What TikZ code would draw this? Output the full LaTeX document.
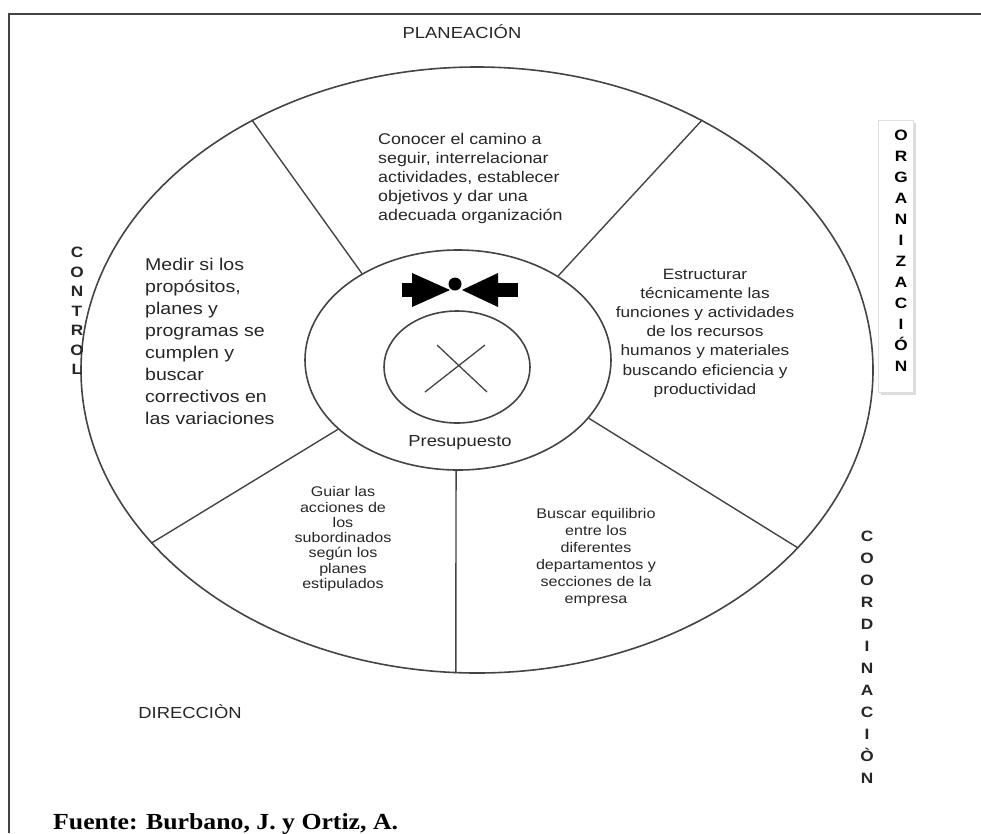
\documentclass[tikz,border=0pt]{standalone}
\usepackage{fontspec}
\setmainfont{Liberation Sans}[FakeStretch=1.15]
\newfontfamily\fuentefont{Liberation Serif}[FakeStretch=1.12]
\usetikzlibrary{shapes.geometric,shadows}
\definecolor{linegray}{HTML}{444444}
\definecolor{textgray}{HTML}{262626}
\tikzset{
  ring/.style={draw=linegray, line width=1.6pt, ellipse, inner sep=0pt},
  divider/.style={draw=linegray, line width=1.4pt},
  sector/.style={text=textgray, inner sep=0pt},
  vletters/.style={text=textgray, inner sep=0pt, align=center, font=\fontsize{15}{19.5}\selectfont\bfseries},
}

\begin{document}
\begin{tikzpicture}[x=1pt,y=-1pt]
\clip (0,0) rectangle (981,833);
\draw[linegray, line width=1.2pt] (981,14) -- (9,14) -- (9,833);

\node[ring, minimum width=792pt, minimum height=606pt] (outer) at (477,370) {};
\node[ring, minimum width=306pt, minimum height=220pt] (middle) at (458,360) {};
\node[ring, minimum width=146pt, minimum height=112pt] (inner) at (457,367) {};

\draw[divider] (middle.138.3) -- (outer.132.5);
\draw[divider] (middle.40.2) -- (outer.48);
\draw[divider] (middle.210.7) -- (outer.208.6);
\draw[divider] (middle.336.3) -- (outer.331.2);
\draw[divider] (middle.269) -- (outer.266.8);

\draw[linegray, line width=1.3pt] (437,345) -- (487,392) (425,392) -- (485,345);
\fill (402,283) rectangle (414,297);
\fill (412,273) -- (450,290) -- (412,307) -- cycle;
\fill (455,284) circle[radius=6.5];
\fill (462,290) -- (498,273) -- (498,307) -- cycle;
\fill (497,283) rectangle (518,297);

\node[sector, font=\fontsize{16}{19}\selectfont] (planeacion) at (462,32) {PLANEACIÓN};
\node[sector, font=\fontsize{16}{19}\selectfont] (direccion) at (190,712) {DIRECCIÒN};
\node[sector, font=\fontsize{16}{19}\selectfont] (presupuesto) at (460,443) {Presupuesto};

\node[sector, anchor=west, align=left, font=\fontsize{15.5}{19}\selectfont] (plan) at (378,178)
  {Conocer el camino a\\seguir, interrelacionar\\actividades, establecer\\objetivos y dar una\\adecuada organización};
\node[sector, anchor=west, align=left, font=\fontsize{17}{22}\selectfont] (ctrl) at (145,341)
  {Medir si los\\propósitos,\\planes y\\programas se\\cumplen y\\buscar\\correctivos en\\las variaciones};
\node[sector, align=center, font=\fontsize{15}{19.2}\selectfont] (org) at (705,333)
  {Estructurar\\técnicamente las\\funciones y actividades\\de los recursos\\humanos y materiales\\buscando eficiencia y\\productividad};
\node[sector, align=center, font=\fontsize{14}{15.3}\selectfont] (dir) at (343,539)
  {Guiar las\\acciones de\\los\\subordinados\\según los\\planes\\estipulados};
\node[sector, align=center, font=\fontsize{14}{17}\selectfont] (coord) at (596,557)
  {Buscar equilibrio\\entre los\\diferentes\\departamentos y\\secciones de la\\empresa};

\node[vletters] (control) at (77,311) {C\\O\\N\\T\\R\\O\\L};
\node[draw=gray!25, fill=white, drop shadow={shadow xshift=3pt, shadow yshift=-3pt, fill=gray!55},
  minimum width=35pt, minimum height=272pt] (orgbox) at (895.5,256) {};
\node[vletters, text=black, font=\fontsize{15}{21}\selectfont\bfseries] (organizacion) at (901,251)
  {O\\R\\G\\A\\N\\I\\Z\\A\\C\\I\\Ó\\N};
\node[vletters, font=\fontsize{15}{22}\selectfont\bfseries] (coordinacion) at (867,657)
  {C\\O\\O\\R\\D\\I\\N\\A\\C\\I\\Ò\\N};

\node[anchor=base west, inner sep=0pt, font=\fuentefont\bfseries\fontsize{23}{26}\selectfont] (fuente) at (53,829)
  {Fuente: Burbano, J. y Ortiz, A.};
\end{tikzpicture}
\end{document}
